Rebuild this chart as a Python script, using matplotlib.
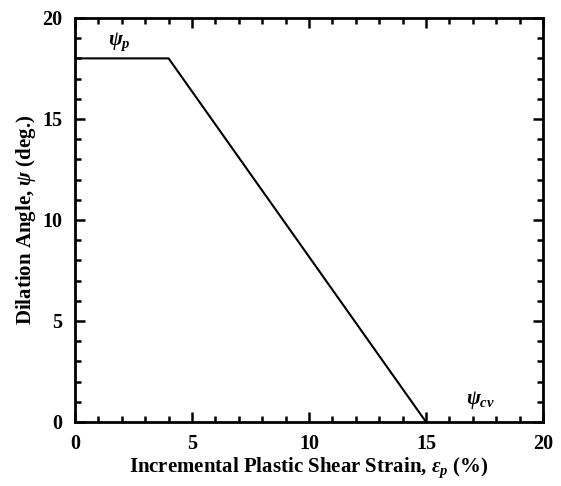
import matplotlib
matplotlib.use("Agg")
import matplotlib.pyplot as plt
from matplotlib.ticker import MultipleLocator

plt.rcParams['font.family'] = ['Liberation Serif', 'DejaVu Serif']
plt.rcParams['mathtext.fontset'] = 'custom'
plt.rcParams['mathtext.rm'] = 'Liberation Serif:bold'
plt.rcParams['mathtext.it'] = 'Liberation Serif:bold:italic'
plt.rcParams['mathtext.bf'] = 'Liberation Serif:bold'

# Dilation angle model: peak plateau then linear softening to critical state
strain = [0, 4, 15]
dilation = [18, 18, 0]

fig = plt.figure(figsize=(5.61, 4.86), dpi=100)
ax = fig.add_axes([0.1337, 0.1317, 0.8343, 0.8313])

ax.plot(strain, dilation, color='black', lw=1.5)

ax.set_xlim(0, 20)
ax.set_ylim(0, 20)
ax.xaxis.set_major_locator(MultipleLocator(5))
ax.xaxis.set_minor_locator(MultipleLocator(1))
ax.yaxis.set_major_locator(MultipleLocator(5))
ax.yaxis.set_minor_locator(MultipleLocator(1))
ax.tick_params(which='both', direction='in', top=True, right=True, width=1.8)
ax.tick_params(which='major', length=7, labelsize=14.5)
ax.tick_params(axis='x', which='major', pad=9)
ax.tick_params(axis='y', which='major', pad=9)
ax.tick_params(which='minor', length=4)
for lbl in ax.get_xticklabels() + ax.get_yticklabels():
    lbl.set_fontweight('bold')
for s in ax.spines.values():
    s.set_linewidth(2)

ax.set_xlabel(r'Incremental Plastic Shear Strain, $\varepsilon_p$ (%)',
              fontsize=15, fontweight='bold', labelpad=1)
ax.set_ylabel(r'Dilation Angle, $\psi$ (deg.)',
              fontsize=15, fontweight='bold', labelpad=3)

ax.text(1.4, 18.8, r'$\psi_p$', fontsize=15, va='center', ha='left')
ax.text(16.7, 1.1, r'$\psi_{cv}$', fontsize=15, va='center', ha='left')

fig.savefig('out.png', dpi=100)
